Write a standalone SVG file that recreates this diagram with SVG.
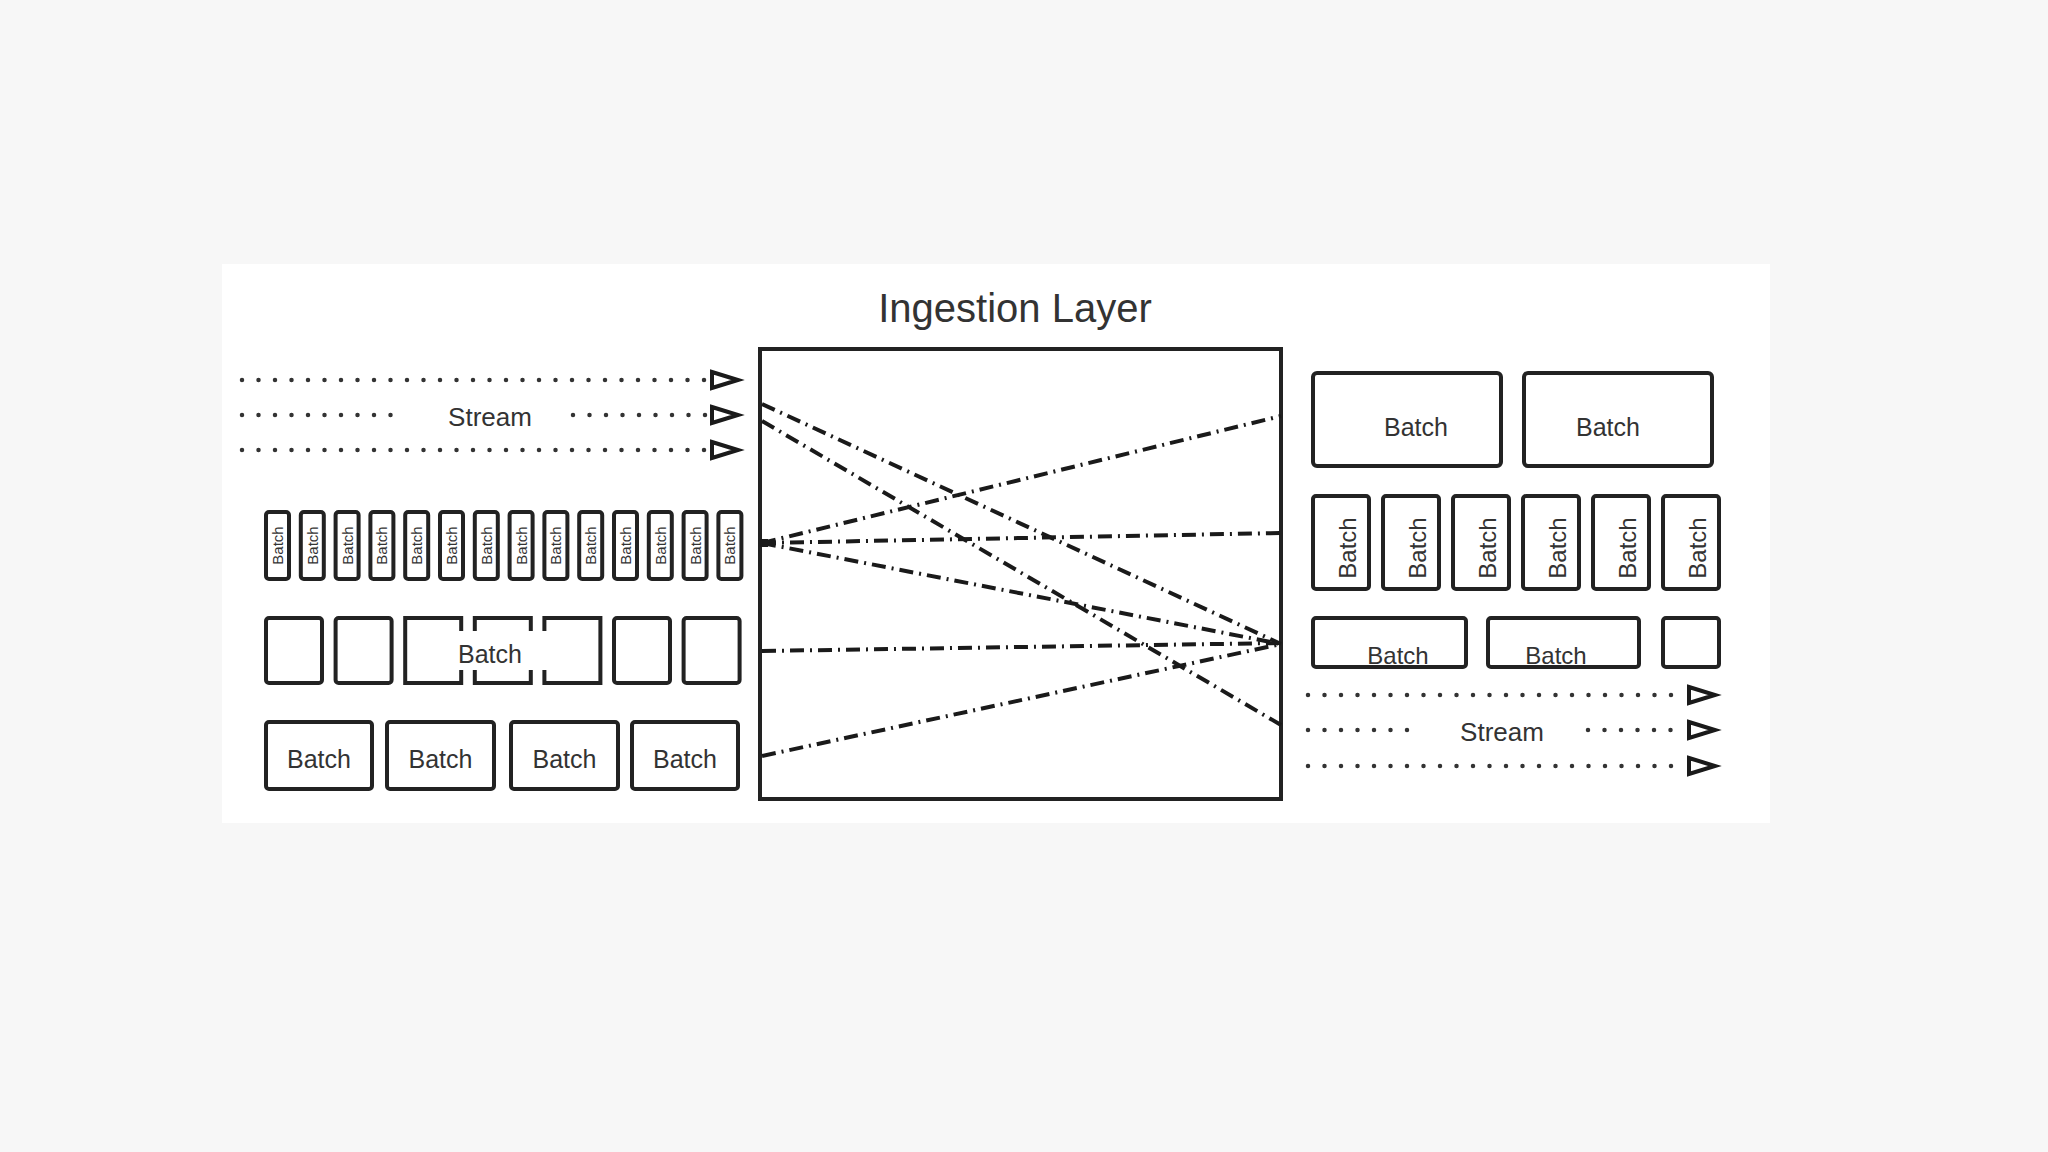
<svg xmlns="http://www.w3.org/2000/svg" width="2048" height="1152" viewBox="0 0 2048 1152">
<style>
.box{fill:#fff;stroke:#222;stroke-width:4;}
.edge{fill:none;stroke:#222;stroke-width:4;stroke-linecap:square;}
.t{font-family:"Liberation Sans",Arial,sans-serif;fill:#333;text-anchor:middle;}
.dot{fill:none;stroke:#333;stroke-width:4.5;stroke-linecap:round;stroke-dasharray:0 16.5;}
.dd{fill:none;stroke:#1a1a1a;stroke-width:4;stroke-dasharray:14 6 2 6;}
.arr{fill:#fff;stroke:#1a1a1a;stroke-width:4;stroke-linejoin:miter;}
</style>
<defs>
<path id="ah" class="arr" d="M-26,-8 L0,0 L-26,8 Z"/>
</defs>
<rect x="0" y="0" width="2048" height="1152" fill="#f7f7f7"/>
<rect x="222" y="264" width="1548" height="559" fill="#fff"/>

<text class="t" x="1015" y="322" font-size="40">Ingestion Layer</text>

<g id="ingestion-layer">
<rect x="760" y="349" width="521" height="450" fill="#fff" stroke="#222" stroke-width="4"/>
</g>

<g id="left-stream">
<path class="dot" d="M242,380 H706"/>
<use href="#ah" x="738" y="380"/>
<path class="dot" d="M242,415 H403 M573,415 H706"/>
<use href="#ah" x="738" y="415"/>
<text class="t" x="490" y="426" font-size="26">Stream</text>
<path class="dot" d="M242,450 H706"/>
<use href="#ah" x="738" y="450"/>
</g>

<g id="left-tiny-batches">
<rect class="box" x="266" y="512" width="23" height="67" rx="3"/><text class="t" font-size="15" transform="translate(283,545.5) rotate(-90)">Batch</text>
<rect class="box" x="300.8" y="512" width="23" height="67" rx="3"/><text class="t" font-size="15" transform="translate(317.8,545.5) rotate(-90)">Batch</text>
<rect class="box" x="335.6" y="512" width="23" height="67" rx="3"/><text class="t" font-size="15" transform="translate(352.6,545.5) rotate(-90)">Batch</text>
<rect class="box" x="370.4" y="512" width="23" height="67" rx="3"/><text class="t" font-size="15" transform="translate(387.4,545.5) rotate(-90)">Batch</text>
<rect class="box" x="405.2" y="512" width="23" height="67" rx="3"/><text class="t" font-size="15" transform="translate(422.2,545.5) rotate(-90)">Batch</text>
<rect class="box" x="440" y="512" width="23" height="67" rx="3"/><text class="t" font-size="15" transform="translate(457,545.5) rotate(-90)">Batch</text>
<rect class="box" x="474.8" y="512" width="23" height="67" rx="3"/><text class="t" font-size="15" transform="translate(491.8,545.5) rotate(-90)">Batch</text>
<rect class="box" x="509.6" y="512" width="23" height="67" rx="3"/><text class="t" font-size="15" transform="translate(526.6,545.5) rotate(-90)">Batch</text>
<rect class="box" x="544.4" y="512" width="23" height="67" rx="3"/><text class="t" font-size="15" transform="translate(561.4,545.5) rotate(-90)">Batch</text>
<rect class="box" x="579.2" y="512" width="23" height="67" rx="3"/><text class="t" font-size="15" transform="translate(596.2,545.5) rotate(-90)">Batch</text>
<rect class="box" x="614" y="512" width="23" height="67" rx="3"/><text class="t" font-size="15" transform="translate(631,545.5) rotate(-90)">Batch</text>
<rect class="box" x="648.8" y="512" width="23" height="67" rx="3"/><text class="t" font-size="15" transform="translate(665.8,545.5) rotate(-90)">Batch</text>
<rect class="box" x="683.6" y="512" width="23" height="67" rx="3"/><text class="t" font-size="15" transform="translate(700.6,545.5) rotate(-90)">Batch</text>
<rect class="box" x="718.4" y="512" width="23" height="67" rx="3"/><text class="t" font-size="15" transform="translate(735.4,545.5) rotate(-90)">Batch</text>
</g>

<g id="left-square-batch">
<rect class="box" x="266" y="618" width="56" height="65" rx="3"/>
<rect class="box" x="335.6" y="618" width="56" height="65" rx="3"/>
<path class="edge" d="M461.2,629 V618 H405.2 V683 H461.2 V672"/>
<path class="edge" d="M474.8,629 V618 H530.8 V629 M474.8,672 V683 H530.8 V672"/>
<path class="edge" d="M544.4,629 V618 H600.4 V683 H544.4 V672"/>
<rect class="box" x="614" y="618" width="56" height="65" rx="3"/>
<rect class="box" x="683.6" y="618" width="56" height="65" rx="3"/>
<text class="t" x="490" y="663" font-size="25">Batch</text>
</g>

<g id="left-batches">
<rect class="box" x="266" y="722" width="106" height="67" rx="3"/><text class="t" x="319" y="768" font-size="25">Batch</text>
<rect class="box" x="387" y="722" width="107" height="67" rx="3"/><text class="t" x="440.5" y="768" font-size="25">Batch</text>
<rect class="box" x="511" y="722" width="107" height="67" rx="3"/><text class="t" x="564.5" y="768" font-size="25">Batch</text>
<rect class="box" x="632" y="722" width="106" height="67" rx="3"/><text class="t" x="685" y="768" font-size="25">Batch</text>
</g>

<g id="right-big-batches">
<rect class="box" x="1313" y="373" width="188" height="93" rx="4"/><text class="t" x="1416" y="436" font-size="25">Batch</text>
<rect class="box" x="1524" y="373" width="188" height="93" rx="4"/><text class="t" x="1608" y="436" font-size="25">Batch</text>
</g>

<g id="right-vertical-batches">
<rect class="box" x="1313" y="496" width="56" height="93" rx="3"/><text class="t" font-size="24" transform="translate(1356,548) rotate(-90)">Batch</text>
<rect class="box" x="1383" y="496" width="56" height="93" rx="3"/><text class="t" font-size="24" transform="translate(1426,548) rotate(-90)">Batch</text>
<rect class="box" x="1453" y="496" width="56" height="93" rx="3"/><text class="t" font-size="24" transform="translate(1496,548) rotate(-90)">Batch</text>
<rect class="box" x="1523" y="496" width="56" height="93" rx="3"/><text class="t" font-size="24" transform="translate(1566,548) rotate(-90)">Batch</text>
<rect class="box" x="1593" y="496" width="56" height="93" rx="3"/><text class="t" font-size="24" transform="translate(1636,548) rotate(-90)">Batch</text>
<rect class="box" x="1663" y="496" width="56" height="93" rx="3"/><text class="t" font-size="24" transform="translate(1706,548) rotate(-90)">Batch</text>
</g>

<g id="right-flat-batches">
<rect x="1313" y="618" width="153" height="49" rx="3" fill="#fff"/>
<rect x="1488" y="618" width="151" height="49" rx="3" fill="#fff"/>
<text class="t" x="1398" y="664" font-size="24">Batch</text>
<text class="t" x="1556" y="664" font-size="24">Batch</text>
<rect x="1313" y="618" width="153" height="49" rx="3" fill="none" stroke="#222" stroke-width="4"/>
<rect x="1488" y="618" width="151" height="49" rx="3" fill="none" stroke="#222" stroke-width="4"/>
<rect class="box" x="1663" y="618" width="56" height="49" rx="3"/>
</g>

<g id="right-stream">
<path class="dot" d="M1308,695 H1684"/>
<use href="#ah" x="1715" y="695"/>
<path class="dot" d="M1308,730 H1416 M1588,730 H1684"/>
<use href="#ah" x="1715" y="730"/>
<text class="t" x="1502" y="741" font-size="26">Stream</text>
<path class="dot" d="M1308,766 H1684"/>
<use href="#ah" x="1715" y="766"/>
</g>

<g id="connectors">
<path class="dd" d="M762,404 L1281,644"/>
<path class="dd" d="M762,421 L1281,725"/>
<path class="dd" d="M762,543 L1281,416"/>
<path class="dd" d="M762,543 L1281,533"/>
<path class="dd" d="M762,543 L1281,644"/>
<path class="dd" d="M762,651 L1281,643"/>
<path class="dd" d="M762,756 L1281,644"/>
<rect x="760" y="539" width="8" height="8" fill="#1a1a1a"/>
</g>
</svg>
